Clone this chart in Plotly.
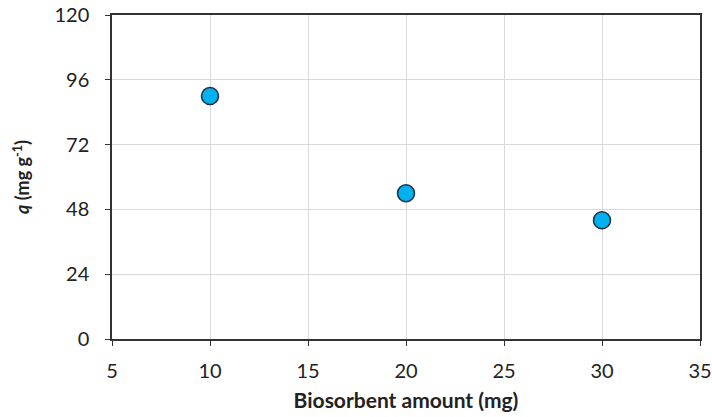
import plotly.graph_objects as go

x_vals = [10, 20, 30]
q_vals = [90, 54, 44]
x_ticks = [5, 10, 15, 20, 25, 30, 35]
y_ticks = [0, 24, 48, 72, 96, 120]

fig = go.Figure()
fig.add_trace(go.Scatter(
    x=x_vals, y=q_vals, mode="markers",
    marker=dict(size=17, color="#00B0F0", line=dict(color="#1F2F3F", width=1.5)),
    showlegend=False,
))

font_family = "Lato, Open Sans, sans-serif"
fig.update_layout(
    width=712, height=417,
    margin=dict(l=112, r=12, t=15, b=78, autoexpand=False),
    paper_bgcolor="white", plot_bgcolor="white",
    font=dict(family=font_family, size=20, color="#222"),
    xaxis=dict(
        range=[5, 35], tickvals=x_ticks, ticktext=[str(v) for v in x_ticks],
        showgrid=True, gridcolor="#d9d9d9", gridwidth=1,
        showline=True, linecolor="#333", linewidth=1.5, mirror=True,
        ticks="outside", ticklen=5, tickcolor="#333",
        ticklabelstandoff=8,
        zeroline=False, automargin=False,
        title=dict(text="<b>Biosorbent amount (mg)</b>", font=dict(size=21), standoff=13),
    ),
    yaxis=dict(
        range=[0, 120], tickvals=y_ticks, ticktext=[str(v) for v in y_ticks],
        showgrid=True, gridcolor="#d9d9d9", gridwidth=1,
        showline=True, linecolor="#333", linewidth=1.5, mirror=True,
        ticks="outside", ticklen=5, tickcolor="#333",
        ticklabelstandoff=12,
        zeroline=False, automargin=False,
        title=dict(text="<b><i>q</i> (mg g<sup>-1</sup>)</b>", font=dict(size=18), standoff=20),
    ),
)

fig.write_html(
    "out.html",
    config={"displayModeBar": False},
    post_script="document.body.style.margin='0';document.body.style.overflow='hidden';",
)
